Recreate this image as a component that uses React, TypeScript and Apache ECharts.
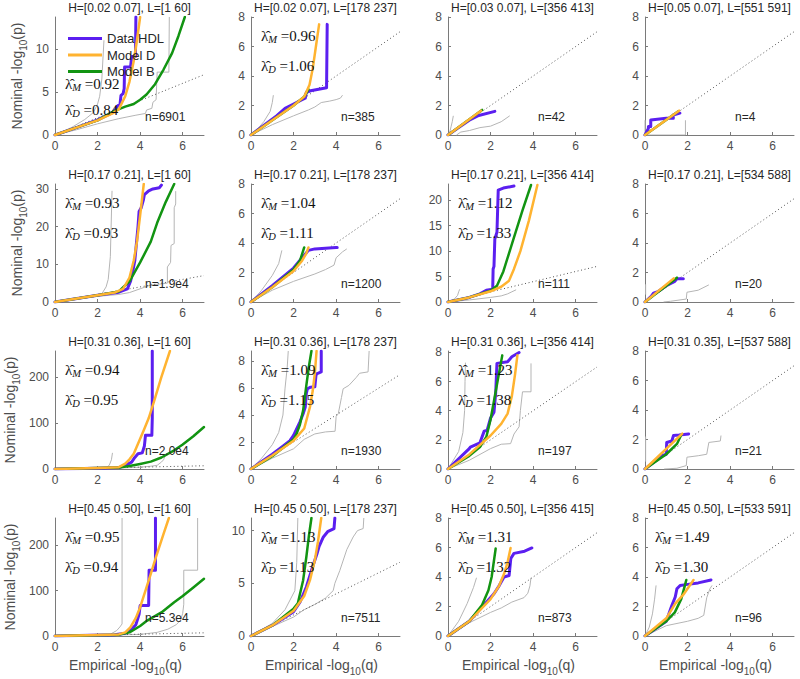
import React, { useEffect, useRef } from "react";
import * as echarts from "echarts";

type Pt = [number, number];

const titles = [
  "H=[0.02 0.07], L=[1 60]", "H=[0.02 0.07], L=[178 237]", "H=[0.03 0.07], L=[356 413]", "H=[0.05 0.07], L=[551 591]",
  "H=[0.17 0.21], L=[1 60]", "H=[0.17 0.21], L=[178 237]", "H=[0.17 0.21], L=[356 414]", "H=[0.17 0.21], L=[534 588]",
  "H=[0.31 0.36], L=[1 60]", "H=[0.31 0.36], L=[178 237]", "H=[0.31 0.36], L=[356 414]", "H=[0.31 0.35], L=[537 588]",
  "H=[0.45 0.50], L=[1 60]", "H=[0.45 0.50], L=[178 237]", "H=[0.45 0.50], L=[356 415]", "H=[0.45 0.50], L=[533 591]",
];
const nLabels = ["n=6901", "n=385", "n=42", "n=4", "n=1.9e4", "n=1200", "n=111", "n=20", "n=2.0e4", "n=1930", "n=197", "n=21", "n=5.3e4", "n=7511", "n=873", "n=96"];
const lambdaM = ["0.92", "0.96", "", "", "0.93", "1.04", "1.12", "", "0.94", "1.09", "1.23", "", "0.95", "1.13", "1.31", "1.49"];
const lambdaD = ["0.84", "1.06", "", "", "0.93", "1.11", "1.33", "", "0.95", "1.15", "1.38", "", "0.94", "1.13", "1.32", "1.30"];
const yMax = [13.7, 8, 8, 8, 31.3, 8, 23.2, 8, 256, 8.75, 8.1, 8, 260, 11.2, 8, 8];
const yTicks = [
  [0, 5, 10], [0, 2, 4, 6, 8], [0, 2, 4, 6, 8], [0, 2, 4, 6, 8],
  [0, 10, 20, 30], [0, 2, 4, 6, 8], [0, 5, 10, 15, 20], [0, 2, 4, 6, 8],
  [0, 100, 200], [0, 2, 4, 6, 8], [0, 2, 4, 6, 8], [0, 2, 4, 6, 8],
  [0, 100, 200], [0, 5, 10], [0, 2, 4, 6, 8], [0, 2, 4, 6, 8],
];
const xTicks = [0, 2, 4, 6];
const diagonal: Pt[] = [[0, 0], [7, 7]];
const legendNames = ["Data HDL", "Model D", "Model B"];

// Row 1
const p11Gray1: Pt[] = [[0, 0], [0.8, 0.9], [1.4, 1.8], [1.8, 2.6], [2.0, 3.6], [2.1, 4.5], [2.2, 6.5], [2.3, 11]];
const p11Gray2: Pt[] = [[0, 0], [1, 0.6], [2, 1.3], [3, 1.9], [3.8, 2.3], [4.25, 2.5], [4.3, 2.9], [4.55, 3.1], [4.6, 3.8], [4.75, 4.1], [4.8, 7.3], [5.35, 7.3], [5.37, 13.7]];
const p11HDL: Pt[] = [[0, 0], [1, 0.85], [2, 1.75], [2.7, 2.6], [2.85, 3.0], [2.95, 3.4], [3.05, 3.5], [3.1, 4.6], [3.2, 4.8], [3.25, 5.4], [3.27, 7.9], [3.55, 7.9], [3.6, 9.1], [3.78, 9.1], [3.8, 13.7]];
const p11D: Pt[] = [[0, 0], [1, 0.85], [2, 1.7], [2.7, 2.5], [3.0, 3.0], [3.3, 4.5], [3.5, 6.2], [3.7, 8.6], [3.85, 11], [4.0, 13.7]];
const p11B: Pt[] = [[0, 0], [1, 0.85], [2, 1.7], [2.8, 2.8], [3.3, 3.3], [3.7, 3.6], [4.0, 4.1], [4.3, 4.7], [4.7, 5.9], [5.1, 7.6], [5.5, 9.5], [5.8, 11.5], [6.1, 13.7]];

const p12Gray1: Pt[] = [[0, 0], [0.3, 0.4], [0.6, 0.9], [0.9, 1.6], [1.0, 2.2], [1.05, 2.7]];
const p12Gray2: Pt[] = [[0, 0], [1, 0.7], [2, 1.3], [2.7, 1.7], [3.0, 1.9], [3.3, 2.2], [3.7, 2.3], [4.0, 2.4], [4.2, 2.5], [4.3, 2.7]];
const p12HDL: Pt[] = [[0, 0], [1.2, 1.3], [1.6, 1.8], [2.0, 2.1], [2.4, 2.4], [2.55, 2.5], [2.6, 2.9], [2.8, 3.0], [3.55, 3.2], [3.58, 7.5]];
const p12D: Pt[] = [[0, 0], [1, 1], [2, 2], [2.5, 2.6], [2.75, 3.4], [2.9, 4.5], [3.05, 6], [3.2, 7.5]];
const p12B: Pt[] = [[0, 0], [1, 1], [2, 2], [2.5, 2.6], [2.7, 3.1]];

const p13Gray1: Pt[] = [[0, 0], [0.1, 0.3], [0.15, 0.6], [0.2, 0.9], [0.25, 1.3]];
const p13Gray2: Pt[] = [[0.4, 0], [0.6, 0.2], [1, 0.3], [1.5, 0.5], [2, 0.6], [2.5, 0.9], [2.9, 1.3]];
const p13HDL: Pt[] = [[0, 0], [0.5, 0.5], [1, 1.0], [1.4, 1.3], [2.2, 1.6]];
const p13D: Pt[] = [[0, 0], [1.55, 1.65]];
const p13B: Pt[] = [[0, 0], [1.6, 1.7]];

const p14Gray1: Pt[] = [[0, 0], [0, 1.0]];
const p14Gray2: Pt[] = [[0, 0], [1.9, 0], [1.9, 1.0]];
const p14HDL: Pt[] = [[0, 0], [0.16, 0.45], [0.16, 0.57], [0.27, 0.57], [0.27, 1.02], [1.0, 1.14], [1.33, 1.14], [1.33, 1.36], [1.64, 1.48]];
const p14D: Pt[] = [[0, 0], [1.6, 1.65]];
const p14B: Pt[] = [[0, 0], [1.55, 1.6]];

// Row 2
const p21Gray1: Pt[] = [[0, 0], [1.5, 1.2], [2.2, 2.2], [2.4, 4], [2.5, 6], [2.6, 12], [2.68, 29.5]];
const p21Gray2: Pt[] = [[0, 0], [2, 1.5], [3, 2], [3.5, 2.5], [4, 3.5], [4.5, 4.5], [5, 4.8], [5.28, 5], [5.28, 9.3], [5.43, 10.5], [5.45, 15], [5.6, 15.5], [5.6, 25], [5.67, 26], [5.67, 29.4]];
const p21HDL: Pt[] = [[0, 0], [2, 1.8], [3, 2.6], [3.4, 3.5], [3.55, 5.5], [3.65, 8], [3.75, 11], [3.8, 14], [3.85, 17], [3.9, 20], [3.95, 24], [4.05, 25], [4.15, 27], [4.2, 28.5], [4.4, 29.5], [4.6, 30], [4.9, 30.3], [5.0, 31]];
const p21D: Pt[] = [[0, 0], [2, 1.8], [2.8, 2.5], [3.2, 3.5], [3.5, 6.5], [3.7, 11], [3.85, 16], [4.0, 23], [4.17, 31.3]];
const p21B: Pt[] = [[0, 0], [2, 1.8], [3, 2.8], [3.5, 5.5], [4.0, 10.5], [4.5, 16], [4.8, 21], [5.2, 26.5], [5.6, 31.3]];

const p22Gray1: Pt[] = [[0, 0], [0.5, 0.8], [1, 1.8], [1.3, 2.6], [1.45, 3.5]];
const p22Gray2: Pt[] = [[0, 0], [1, 0.8], [2, 1.4], [3, 1.9], [3.5, 2.2], [3.9, 2.5], [4, 3], [4.3, 3.4], [4.5, 3.6]];
const p22HDL: Pt[] = [[0, 0], [1, 1.1], [1.5, 1.7], [2, 2.3], [2.4, 3.0], [2.7, 3.5], [3, 3.6], [4, 3.7], [4.05, 3.7]];
const p22D: Pt[] = [[0, 0], [1, 1], [2, 2.1], [2.4, 2.8], [2.6, 3.3], [2.7, 3.7]];
const p22B: Pt[] = [[0, 0], [1, 1], [2, 2.2], [2.3, 2.8], [2.5, 3.7]];

const p23Gray1: Pt[] = [[0, 0], [0.3, 0.6], [0.45, 1.3], [0.5, 2.0], [0.55, 2.5]];
const p23Gray2: Pt[] = [[0, 0], [1, 0.4], [2, 0.9], [2.5, 1.2], [2.8, 1.6], [3.0, 2.0], [3.2, 2.4]];
const p23HDL: Pt[] = [[0, 0], [1, 0.9], [1.5, 1.6], [1.8, 2.3], [2.1, 2.5], [2.12, 6.5], [2.16, 7], [2.2, 12.4], [2.3, 13.7], [2.36, 22], [2.6, 22.4], [3.1, 22.8]];
const p23D: Pt[] = [[0, 0], [1, 0.9], [2, 2.1], [2.5, 3.0], [2.87, 4.2], [3.1, 6.5], [3.4, 10], [3.8, 16], [4.2, 23]];
const p23B: Pt[] = [[0, 0], [1, 0.9], [2, 2.2], [2.3, 3.2], [2.6, 6], [3.1, 12.7], [3.5, 18], [3.9, 23]];

const p24Gray1: Pt[] = [[0.03, 0.5], [0.03, 1.2]];
const p24Gray2: Pt[] = [[0.87, 0], [1.2, 0.05], [1.94, 0.2], [1.97, 0.66], [2.5, 0.8], [3.0, 1.16]];
const p24HDL: Pt[] = [[0, 0], [0.3, 0.4], [0.4, 0.6], [0.6, 0.7], [1.0, 1.1], [1.4, 1.4], [1.5, 1.57], [1.8, 1.57]];
const p24D: Pt[] = [[0, 0], [1.35, 1.6]];
const p24B: Pt[] = [[0, 0], [1.5, 1.65]];

// Row 3
const p31Gray1: Pt[] = [[0, 0], [2, 2], [2.4, 3], [2.55, 8], [2.65, 20], [2.7, 35]];
const p31Gray2: Pt[] = [[0, 0], [3, 2], [4, 4], [4.5, 6], [4.8, 8], [5, 15], [5.1, 20], [5.2, 32]];
const p31HDL: Pt[] = [[0, 0], [2, 1.8], [3, 3], [3.3, 8], [3.6, 15], [3.75, 25], [3.9, 33], [4.1, 35], [4.2, 50], [4.25, 73], [4.55, 73], [4.57, 110], [4.57, 256]];
const p31D: Pt[] = [[0, 0], [2, 2], [3, 4], [3.3, 11.6], [3.5, 21], [3.7, 33], [4.17, 84], [4.4, 110], [4.65, 146], [5.0, 200], [5.4, 256]];
const p31B: Pt[] = [[0, 0], [3, 3], [3.5, 6.5], [4, 11], [4.5, 16], [5, 25], [5.6, 40.6], [6, 53], [6.5, 71], [7, 91]];

const p32Gray1: Pt[] = [[0, 0], [0.5, 0.8], [1, 1.8], [1.3, 2.7], [1.5, 4], [1.6, 6], [1.7, 7.5], [1.75, 8.75]];
const p32Gray2: Pt[] = [[0, 0], [1, 0.8], [2, 1.5], [2.5, 2.2], [3, 2.6], [3.5, 2.75], [3.95, 2.8], [4.0, 3.9], [4.1, 4.1], [4.25, 5.3], [4.33, 5.95], [4.6, 6.2], [4.95, 6.8], [5.1, 7.1], [5.5, 7.2], [5.55, 8.75]];
const p32HDL: Pt[] = [[0, 0], [1, 1.1], [1.5, 1.7], [1.83, 2.1], [2.0, 2.5], [2.3, 3.5], [2.45, 4.1], [2.55, 4.6], [2.6, 5.6], [2.65, 5.95], [2.8, 6.07], [3.0, 6.1], [3.05, 6.9], [3.08, 7.06], [3.3, 7.2], [3.3, 8.75]];
const p32D: Pt[] = [[0, 0], [1, 1], [2, 2.1], [2.5, 3.0], [2.77, 4.6], [2.9, 5.8], [3.0, 7.1], [3.08, 8.75]];
const p32B: Pt[] = [[0, 0], [1, 0.95], [2, 2.2], [2.14, 2.6], [2.3, 3.3], [2.45, 4.35], [2.6, 6.2], [2.72, 7.6], [2.84, 8.75]];

const p33Gray1: Pt[] = [[0, 0], [0.5, 1.2], [0.7, 2.5], [0.78, 4], [0.8, 6], [0.82, 7.3]];
const p33Gray2: Pt[] = [[0, 0], [1, 0.6], [2, 1.4], [2.5, 1.7], [2.94, 1.74], [3.1, 2.4], [3.34, 2.9], [3.4, 4], [3.5, 5.3], [3.9, 5.3], [3.9, 7.25]];
const p33HDL: Pt[] = [[0, 0], [1.0, 1.4], [1.05, 1.5], [1.5, 1.8], [1.7, 2.6], [1.84, 2.66], [2.0, 3.5], [2.16, 3.9], [2.24, 5.2], [2.3, 7.25], [2.8, 7.36], [3.0, 7.7], [3.34, 8.0]];
const p33D: Pt[] = [[0, 0], [1, 1], [2, 2.3], [2.5, 3.1], [2.8, 3.8], [3.0, 5.0], [3.15, 6.5], [3.26, 7.8]];
const p33B: Pt[] = [[0, 0], [1, 0.9], [1.5, 1.5], [1.8, 2.2], [2.0, 3.4], [2.2, 5], [2.4, 6.6], [2.55, 7.8]];

const p34Gray1: Pt[] = [[0.03, 0.5], [0.03, 2.2]];
const p34Gray2: Pt[] = [[0.9, 0], [1.5, 0.05], [1.94, 0.23], [1.97, 0.8], [2.5, 0.9], [2.9, 1.0], [3.0, 1.8], [3.54, 1.9], [3.57, 2.27]];
const p34HDL: Pt[] = [[0, 0], [0.8, 0.9], [1.0, 1.0], [1.02, 1.8], [1.26, 1.9], [1.34, 2.27], [1.6, 2.3], [2.05, 2.38]];
const p34D: Pt[] = [[0, 0], [1.75, 2.4]];
const p34B: Pt[] = [[0, 0], [1, 1.0], [1.5, 1.7], [1.7, 2.3]];

// Row 4
const p41Gray1: Pt[] = [[0, 0], [2, 2], [2.6, 4], [2.9, 12], [3.05, 20], [3.15, 26.5], [3.15, 260]];
const p41Gray2: Pt[] = [[0, 0], [3, 2.5], [4, 3.5], [4.8, 8], [5.3, 15], [5.7, 25], [5.9, 35], [6.0, 50], [6.05, 70], [6.05, 145], [6.7, 145], [6.7, 260]];
const p41HDL: Pt[] = [[0, 0], [2.8, 2.8], [3.3, 6], [3.6, 15], [3.8, 25], [3.9, 40], [3.95, 48], [4.0, 67], [4.4, 67], [4.42, 145], [4.72, 145], [4.72, 260]];
const p41D: Pt[] = [[0, 0], [2, 2], [3, 3.5], [3.3, 8], [3.54, 19], [3.8, 40], [4.0, 63.5], [4.25, 100], [4.5, 137], [4.75, 175], [5.1, 225], [5.35, 260]];
const p41B: Pt[] = [[0, 0], [3, 3], [3.5, 8], [4, 22], [4.33, 34], [5, 52], [5.6, 74.5], [6, 88], [6.5, 107], [7, 126]];

const p42Gray1: Pt[] = [[0, 0], [1, 1.2], [1.6, 2.5], [2.06, 4.3], [2.15, 7], [2.2, 11.2]];
const p42Gray2: Pt[] = [[0, 0], [1, 0.9], [2, 1.8], [2.5, 2.5], [3.0, 3.0], [3.5, 3.6], [3.86, 4.3], [3.94, 5], [4.17, 6.2], [4.5, 8.2], [4.8, 9.4], [5.0, 10], [5.27, 10.2], [5.3, 11.2]];
const p42HDL: Pt[] = [[0, 0], [1, 1], [2, 2.3], [2.3, 3.2], [2.6, 4.65], [2.9, 6.6], [3.1, 7.8], [3.2, 8.5], [3.4, 9.4], [3.6, 9.9], [3.9, 10.2], [3.94, 11.2]];
const p42D: Pt[] = [[0, 0], [1, 1], [2, 2.4], [2.5, 3.8], [2.77, 5.3], [3.0, 7.2], [3.15, 9], [3.3, 11.2]];
const p42B: Pt[] = [[0, 0], [1, 1], [2, 2.6], [2.2, 3.1], [2.45, 5.3], [2.6, 7.5], [2.72, 9.5], [2.84, 11.2]];

const p43Gray1: Pt[] = [[0, 0], [0.5, 1], [0.9, 2.2], [1.2, 3.3], [1.34, 3.95]];
const p43Gray2: Pt[] = [[0, 0], [1, 0.9], [2, 1.6], [2.5, 1.9], [3, 2.3], [3.57, 2.6], [3.75, 2.9], [3.85, 3.4], [3.9, 3.95]];
const p43HDL: Pt[] = [[0, 0], [1, 1], [2.16, 2.86], [2.4, 3.4], [2.63, 4.0], [2.87, 4.1], [2.95, 5.25], [3.1, 5.6], [3.6, 5.75], [3.94, 5.97]];
const p43D: Pt[] = [[0, 0], [1, 1], [2, 2.5], [2.4, 3.4], [2.63, 4.2], [2.8, 5.0], [2.94, 5.97]];
const p43B: Pt[] = [[0, 0], [1, 1], [1.6, 2.1], [1.9, 3.1], [2.05, 4.0], [2.24, 5.93]];

const p44Gray1: Pt[] = [[0, 0], [0.2, 0.6], [0.35, 1.5], [0.45, 2.5], [0.52, 3.43]];
const p44Gray2: Pt[] = [[0, 0], [1, 0.7], [2, 1.0], [2.5, 1.2], [2.76, 1.4], [2.9, 2.6], [3.05, 3.2], [3.15, 3.43]];
const p44HDL: Pt[] = [[0, 0], [1, 1], [1.26, 2.07], [1.42, 2.64], [1.5, 3.2], [1.65, 3.43], [2.0, 3.5], [2.5, 3.6], [3.1, 3.8]];
const p44D: Pt[] = [[0, 0], [1, 1.2], [1.42, 2.2], [1.8, 2.8], [2.28, 3.8]];
const p44B: Pt[] = [[0, 0], [1, 1], [1.4, 1.6], [1.7, 2.5], [1.85, 3.3], [1.94, 3.8]];

const panelGray1 = [p11Gray1, p12Gray1, p13Gray1, p14Gray1, p21Gray1, p22Gray1, p23Gray1, p24Gray1, p31Gray1, p32Gray1, p33Gray1, p34Gray1, p41Gray1, p42Gray1, p43Gray1, p44Gray1];
const panelGray2 = [p11Gray2, p12Gray2, p13Gray2, p14Gray2, p21Gray2, p22Gray2, p23Gray2, p24Gray2, p31Gray2, p32Gray2, p33Gray2, p34Gray2, p41Gray2, p42Gray2, p43Gray2, p44Gray2];
const panelHDL = [p11HDL, p12HDL, p13HDL, p14HDL, p21HDL, p22HDL, p23HDL, p24HDL, p31HDL, p32HDL, p33HDL, p34HDL, p41HDL, p42HDL, p43HDL, p44HDL];
const panelD = [p11D, p12D, p13D, p14D, p21D, p22D, p23D, p24D, p31D, p32D, p33D, p34D, p41D, p42D, p43D, p44D];
const panelB = [p11B, p12B, p13B, p14B, p21B, p22B, p23B, p24B, p31B, p32B, p33B, p34B, p41B, p42B, p43B, p44B];

const BLUE = "#5b1ff0";
const ORANGE = "#ffb330";
const GREEN = "#129412";
const GRAY = "#b5b5b5";
const AXIS = "#7a7a7a";
const LABEL = "#4d4d4d";
const TEXT = "#262626";
const SANS = "Liberation Sans, Arial, sans-serif";
const SERIF = "Liberation Serif, DejaVu Serif, serif";

const lefts = [55, 251, 448, 645];
const tops = [17, 184, 351, 518];
const PW = 149;
const PH = 118;

function buildOption() {
  const grid: any[] = [];
  const xAxis: any[] = [];
  const yAxis: any[] = [];
  const series: any[] = [];
  const graphic: any[] = [];

  const lambdaRich = {
    a: { fontFamily: SERIF, fontSize: 15, lineHeight: 14, fill: "#111" },
    s: { fontFamily: SERIF, fontStyle: "italic", fontSize: 10.5, lineHeight: 8, padding: [6, 0, 0, 0], fill: "#111" },
  };
  const nameRich = {
    a: { fontFamily: SANS, fontSize: 14, lineHeight: 16, fill: LABEL },
    s: { fontFamily: SANS, fontSize: 10, lineHeight: 10, padding: [13, 0, 0, 0], fill: LABEL },
  };

  for (let i = 0; i < 16; i++) {
    const r = Math.floor(i / 4);
    const c = i % 4;
    const left = lefts[c];
    const top = tops[r];
    grid.push({ left, top, width: PW, height: PH, containLabel: false });
    xAxis.push({
      gridIndex: i, type: "value", min: 0, max: 7,
      axisLine: { show: true, lineStyle: { color: AXIS, width: 1 } },
      axisTick: { show: true, inside: true, length: 3, customValues: xTicks, lineStyle: { color: AXIS } },
      axisLabel: { customValues: xTicks, color: LABEL, fontSize: 12, fontFamily: SANS, margin: 5, hideOverlap: false },
      splitLine: { show: false },
    });
    yAxis.push({
      gridIndex: i, type: "value", min: 0, max: yMax[i],
      axisLine: { show: true, lineStyle: { color: AXIS, width: 1 } },
      axisTick: { show: true, inside: true, length: 3, customValues: yTicks[i], lineStyle: { color: AXIS } },
      axisLabel: { customValues: yTicks[i], color: LABEL, fontSize: 12, fontFamily: SANS, margin: 6, hideOverlap: false },
      splitLine: { show: false },
    });
    const base = { type: "line", xAxisIndex: i, yAxisIndex: i, showSymbol: false, symbol: "none", silent: true, clip: true, animation: false };
    series.push({ ...base, name: "upper bound", data: panelGray1[i], lineStyle: { color: GRAY, width: 1 }, itemStyle: { color: GRAY }, z: 2 });
    series.push({ ...base, name: "lower bound", data: panelGray2[i], lineStyle: { color: GRAY, width: 1 }, itemStyle: { color: GRAY }, z: 2 });
    series.push({ ...base, name: "y=x", data: diagonal, lineStyle: { color: "#555", width: 1, type: [1, 2.6] }, itemStyle: { color: "#555" }, z: 2 });
    series.push({ ...base, name: legendNames[0], data: panelHDL[i], lineStyle: { color: BLUE, width: 3, join: "round", cap: "round" }, itemStyle: { color: BLUE }, z: 3 });
    series.push({ ...base, name: legendNames[2], data: panelB[i], lineStyle: { color: GREEN, width: 2.5, join: "round", cap: "round" }, itemStyle: { color: GREEN }, z: 3 });
    series.push({ ...base, name: legendNames[1], data: panelD[i], lineStyle: { color: ORANGE, width: 2.5, join: "round", cap: "round" }, itemStyle: { color: ORANGE }, z: 3 });

    graphic.push({
      type: "text", x: left + PW / 2, y: top - 9, z: 100, silent: true,
      style: { text: titles[i], fill: TEXT, fontSize: 12, fontFamily: SANS, align: "center", verticalAlign: "middle" },
    });
    graphic.push({
      type: "text", x: left + 90, y: top + 100, z: 100, silent: true,
      style: { text: nLabels[i], fill: TEXT, fontSize: 12, fontFamily: SANS, align: "left", verticalAlign: "middle" },
    });
    if (lambdaM[i]) {
      const yM = i === 0 ? top + 67 : top + 19;
      const yD = i === 0 ? top + 93 : top + 49;
      graphic.push({
        type: "text", x: left + 10, y: yM, z: 100, silent: true,
        style: { text: "{a|\u03BB\u0302}{s|M}{a| =" + lambdaM[i] + "}", rich: lambdaRich, align: "left", verticalAlign: "middle" },
      });
      graphic.push({
        type: "text", x: left + 10, y: yD, z: 100, silent: true,
        style: { text: "{a|\u03BB\u0302}{s|D}{a| =" + lambdaD[i] + "}", rich: lambdaRich, align: "left", verticalAlign: "middle" },
      });
    }
    if (c === 0) {
      graphic.push({
        type: "text", x: r < 2 ? 17 : 10, y: top + PH / 2, rotation: Math.PI / 2, z: 100, silent: true,
        style: { text: "{a|Nominal -log}{s|10}{a|(p)}", rich: nameRich, align: "center", verticalAlign: "middle" },
      });
    }
    if (r === 3) {
      graphic.push({
        type: "text", x: left + PW / 2 - 4, y: 665, z: 100, silent: true,
        style: { text: "{a|Empirical -log}{s|10}{a|(q)}", rich: nameRich, align: "center", verticalAlign: "middle" },
      });
    }
  }

  return {
    animation: false,
    backgroundColor: "#ffffff",
    grid, xAxis, yAxis, series, graphic,
    legend: {
      data: legendNames, orient: "vertical", left: 63, top: 27, icon: "rect",
      itemWidth: 34, itemHeight: 3, itemGap: 3.5, selectedMode: false,
      textStyle: { fontSize: 13, fontFamily: SANS, color: TEXT, lineHeight: 12 },
    },
  };
}

export default function App() {
  const ref = useRef<HTMLDivElement>(null);
  useEffect(() => {
    if (!ref.current) return;
    const chart = echarts.init(ref.current, undefined, { renderer: "svg" });
    chart.setOption(buildOption() as any);
    return () => chart.dispose();
  }, []);
  return <div ref={ref} style={{ width: 800, height: 679, position: "absolute", left: 0, top: 0 }} />;
}
